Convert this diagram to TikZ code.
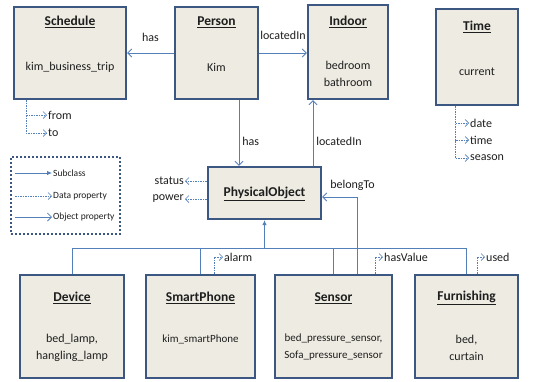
\documentclass[tikz,border=0pt]{standalone}
\usepackage{fontspec}
\setmainfont{Carlito}
\usepackage{xcolor}
\usetikzlibrary{positioning,arrows.meta}

\definecolor{boxfill}{RGB}{238,236,226}
\definecolor{boxline}{RGB}{60,88,130}
\definecolor{linkblue}{RGB}{84,128,186}
\definecolor{txtgray}{RGB}{30,30,30}

\begin{document}
\begin{tikzpicture}[x=1pt, y=-1pt, text=txtgray,
    classbox/.style={draw=boxline, line width=2.4pt, fill=boxfill, rectangle, inner sep=0pt},
    ttl/.style={font=\fontsize{13.5}{15}\selectfont\bfseries},
    inst/.style={font=\fontsize{12}{17}\selectfont, align=center},
    lbl/.style={font=\fontsize{12}{13}\selectfont, inner sep=1pt},
    leglbl/.style={font=\fontsize{9.5}{10}\selectfont, inner sep=1pt, anchor=west},
    objprop/.style={draw=linkblue, line width=0.8pt, -{Straight Barb[length=4pt,width=8pt]}},
    dataprop/.style={draw=linkblue, line width=0.7pt, dash pattern=on 1.5pt off 1pt,
        -{Straight Barb[length=3.5pt,width=7pt]}},
    subcls/.style={draw=linkblue, line width=0.8pt},
  ]
\useasboundingbox (0,0) rectangle (533,381);

% classes on top
\node[classbox, minimum width=112, minimum height=92] (schedule) at (70,53) {};
\node[ttl] (scheduleT) at (70,22) {\underline{Schedule}};
\node[inst] (scheduleI) at (70,67) {kim\_business\_trip};

\node[classbox, minimum width=83, minimum height=92] (person) at (216.5,53) {};
\node[ttl] (personT) at (216.5,22) {\underline{Person}};
\node[inst] (personI) at (216.5,67) {Kim};

\node[classbox, minimum width=80, minimum height=94] (indoor) at (348,52) {};
\node[ttl] (indoorT) at (348,22) {\underline{Indoor}};
\node[inst] (indoorI) at (348,73.5) {bedroom\\bathroom};

\node[classbox, minimum width=82, minimum height=96] (time) at (477,57) {};
\node[ttl] (timeT) at (477,27) {\underline{Time}};
\node[inst] (timeI) at (477,72) {current};

% middle
\node[classbox, minimum width=113, minimum height=52] (physobj) at (264.5,193) {};
\node[ttl] (physobjT) at (264.5,194) {\underline{PhysicalObject}};

% classes at the bottom
\node[classbox, minimum width=104, minimum height=103] (device) at (72,326.5) {};
\node[ttl] (deviceT) at (72,298) {\underline{Device}};
\node[inst] (deviceI) at (72,347.5) {bed\_lamp,\\hangling\_lamp};

\node[classbox, minimum width=109, minimum height=103] (smartphone) at (200.5,326.5) {};
\node[ttl] (smartphoneT) at (200.5,298) {\underline{SmartPhone}};
\node[inst, font=\fontsize{11}{17}\selectfont] (smartphoneI) at (200.5,339) {kim\_smartPhone};

\node[classbox, minimum width=117, minimum height=103] (sensor) at (333.5,326.5) {};
\node[ttl] (sensorT) at (333.5,298) {\underline{Sensor}};
\node[inst, font=\fontsize{11}{17}\selectfont] (sensorI) at (333.5,347.5) {bed\_pressure\_sensor,\\Sofa\_pressure\_sensor};

\node[classbox, minimum width=103, minimum height=103] (furnishing) at (466.5,326.5) {};
\node[ttl] (furnishingT) at (466.5,298) {\underline{Furnishing}};
\node[inst] (furnishingI) at (466.5,347.5) {bed,\\curtain};

% object properties
\draw[objprop] (person.west) -- (schedule.east) node[lbl, midway, above=10pt] {has};
\draw[objprop] (person.east) -- (person.east -| indoor.west) node[lbl, midway, above=12pt] {locatedIn};
\draw[objprop] ([xshift=22.5pt]person.south) -- ([xshift=22.5pt]person.south |- physobj.north)
    node[lbl, pos=0.63, right=2pt] {has};
\draw[objprop] ([xshift=48.5pt]physobj.north) -- ([xshift=48.5pt]physobj.north |- indoor.south)
    node[lbl, pos=0.37, right=2pt] {locatedIn};
\draw[objprop] ([xshift=24pt]sensor.north) |- ([yshift=-4pt]physobj.east)
    node[lbl, pos=0.57, above=5pt] {belongTo};

% subclass tree
\coordinate (bus) at (0,248);
\draw[subcls] (device.north) -- (device.north |- bus) -- (furnishing.north |- bus) -- (furnishing.north);
\draw[subcls] (smartphone.north) -- (smartphone.north |- bus);
\draw[subcls] (sensor.north) -- (sensor.north |- bus);
\draw[subcls, -{Latex[length=5pt,width=4.5pt]}] (physobj.south |- bus) -- (physobj.south);

% data properties
\node[lbl, anchor=west] (from) at (47,115) {from};
\node[lbl, anchor=west] (to) at (47,133) {to};
\draw[dataprop] ([xshift=-44pt]schedule.south) |- (to.west);
\draw[dataprop] ([xshift=-44pt]schedule.south) |- (from.west);

\node[lbl, anchor=west] (date) at (469,123) {date};
\node[lbl, anchor=west] (timeP) at (469,140) {time};
\node[lbl, anchor=west] (season) at (469,158) {season};
\draw[dataprop] ([xshift=-22pt]time.south) |- (season.west);
\draw[dataprop] ([xshift=-22pt]time.south) |- (timeP.west);
\draw[dataprop] ([xshift=-22pt]time.south) |- (date.west);

\node[lbl, anchor=east] (status) at (185,181) {status};
\node[lbl, anchor=east] (power) at (185,199) {power};
\draw[dataprop] (physobj.west |- status) -- (status.east);
\draw[dataprop] (physobj.west |- power) -- (power.east);

\node[lbl, anchor=west] (alarm) at (223,257) {alarm};
\draw[dataprop] ([xshift=13.5pt]smartphone.north) |- (alarm.west);
\node[lbl, anchor=west] (hasValue) at (383,257) {hasValue};
\draw[dataprop] ([xshift=41.5pt]sensor.north) |- (hasValue.west);
\node[lbl, anchor=west] (used) at (485,257) {used};
\draw[dataprop] ([xshift=10.5pt]furnishing.north) |- (used.west);

% legend
\node[draw=boxline, line width=2pt, dotted, minimum width=109, minimum height=77] (legend) at (65.5,195.5) {};
\node[leglbl] (subT) at (52,173) {Subclass};
\node[leglbl] (dataT) at (52,196) {Data property};
\node[leglbl] (objT) at (52,217) {Object property};
\draw[subcls, -{Latex[length=5pt,width=4.5pt]}] ([xshift=5pt]legend.west |- subT) -- (subT.west);
\draw[dataprop] ([xshift=5pt]legend.west |- dataT) -- (dataT.west);
\draw[objprop] ([xshift=5pt]legend.west |- objT) -- (objT.west);
\end{tikzpicture}
\end{document}
